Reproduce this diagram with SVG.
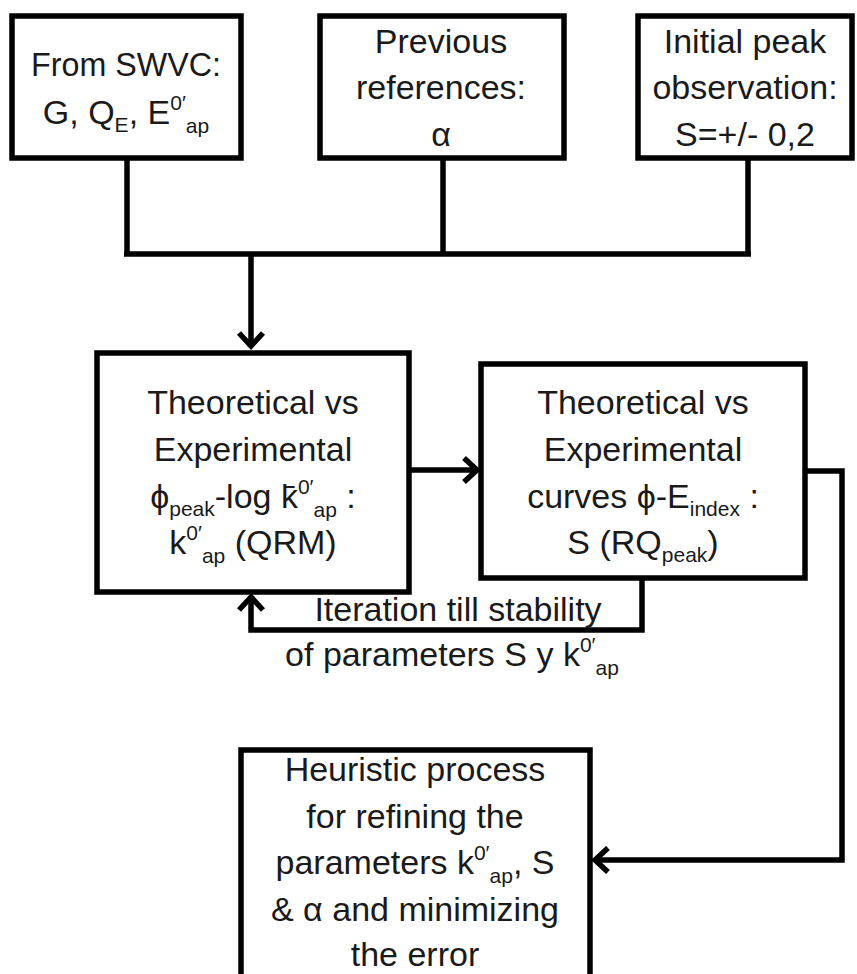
<svg xmlns="http://www.w3.org/2000/svg" width="857" height="974" viewBox="0 0 857 974">
<style>
.box{fill:#fff;stroke:#000;stroke-width:5.5}
.t{font-family:"Liberation Sans",Arial,sans-serif;font-size:34px;fill:#1a1a1a;text-anchor:middle}
.s{font-size:21px}
.c{fill:none;stroke:#000;stroke-width:5.5;stroke-linejoin:miter}
</style>
<defs>
<marker id="ah" markerUnits="userSpaceOnUse" markerWidth="40" markerHeight="40" viewBox="-20 -20 40 40" refX="0" refY="0" orient="auto">
<path d="M-13,-12 L0,0 L-13,12" fill="none" stroke="#000" stroke-width="5.5"/>
</marker>
</defs>
<rect width="857" height="974" fill="#fff"/>
<g id="connectors">
<path class="c" d="M127,159 V254 M443,159 V254 M748,159 V254 M124,254 H751"/>
<path class="c" d="M251,254 V346" marker-end="url(#ah)"/>
<path class="c" d="M410,470 H477" marker-end="url(#ah)"/>
<path class="c" d="M642,579 V630 H251 V597" marker-end="url(#ah)"/>
<path class="c" d="M806,471 H842 V860 H595" marker-end="url(#ah)"/>
<text class="t" x="458" y="621">Iteration till stability</text>
<text class="t" x="452" y="666">of parameters S y k<tspan class="s" dy="-14">0′</tspan><tspan class="s" dy="23">ap</tspan></text>
</g>
<g id="swvc">
<rect class="box" x="12" y="16" width="229" height="142"/>
<text class="t" x="126" y="76" textLength="190" lengthAdjust="spacingAndGlyphs">From SWVC:</text>
<text class="t" x="126" y="124">G, Q<tspan class="s" dy="8">E</tspan><tspan dy="-8">, E</tspan><tspan class="s" dy="-14">0′</tspan><tspan class="s" dy="23">ap</tspan></text>
</g>
<g id="previous">
<rect class="box" x="320" y="16" width="244" height="142"/>
<text class="t" x="441" y="53">Previous</text>
<text class="t" x="441" y="99">references:</text>
<text class="t" x="441" y="146">α</text>
</g>
<g id="initial">
<rect class="box" x="638" y="16" width="214" height="142"/>
<text class="t" x="745" y="53">Initial peak</text>
<text class="t" x="745" y="99">observation:</text>
<text class="t" x="745" y="146">S=+/- 0,2</text>
</g>
<g id="theo1">
<rect class="box" x="97" y="353" width="312" height="239"/>
<text class="t" x="253" y="414">Theoretical vs</text>
<text class="t" x="253" y="461">Experimental</text>
<text class="t" x="253" y="508">ϕ<tspan class="s" dy="8">peak</tspan><tspan dy="-8">-log k̄</tspan><tspan class="s" dy="-14">0′</tspan><tspan class="s" dy="23">ap</tspan><tspan dy="-9"> :</tspan></text>
<text class="t" x="253" y="554">k<tspan class="s" dy="-14">0′</tspan><tspan class="s" dy="23">ap</tspan><tspan dy="-9">  (QRM)</tspan></text>
</g>
<g id="theo2">
<rect class="box" x="481" y="364" width="324" height="214"/>
<text class="t" x="643" y="414">Theoretical vs</text>
<text class="t" x="643" y="461">Experimental</text>
<text class="t" x="643" y="508">curves ϕ-E<tspan class="s" dy="8">index</tspan><tspan dy="-8"> :</tspan></text>
<text class="t" x="643" y="554">S  (RQ<tspan class="s" dy="8">peak</tspan><tspan dy="-8">)</tspan></text>
</g>
<g id="heuristic">
<rect class="box" x="241" y="750" width="349" height="240"/>
<text class="t" x="415" y="781">Heuristic process</text>
<text class="t" x="415" y="828">for refining the</text>
<text class="t" x="415" y="874">parameters k<tspan class="s" dy="-14">0′</tspan><tspan class="s" dy="23">ap</tspan><tspan dy="-9">, S</tspan></text>
<text class="t" x="415" y="921">&amp; α and minimizing</text>
<text class="t" x="415" y="966">the error</text>
</g>
</svg>
